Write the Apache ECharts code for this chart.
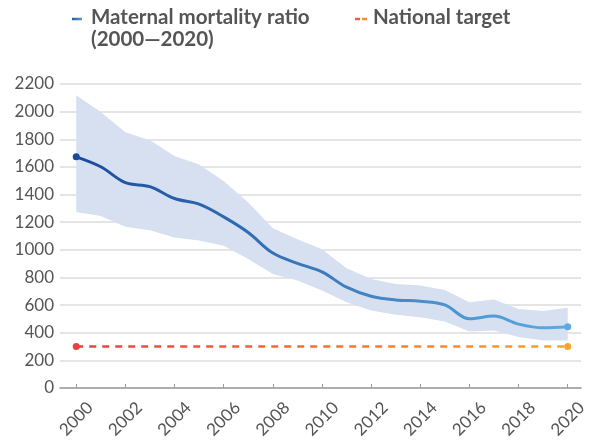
<!DOCTYPE html>
<html><head><meta charset="utf-8">
<script src="https://cdn.jsdelivr.net/npm/echarts@6/dist/echarts.min.js"></script>
<style>html,body{margin:0;padding:0;background:#fff}#c{width:592px;height:441px}</style>
</head><body><div id="c"></div>
<script>
var years = [2000,2001,2002,2003,2004,2005,2006,2007,2008,2009,2010,2011,2012,2013,2014,2015,2016,2017,2018,2019,2020];
var mmr = [1673,1601,1486,1457,1371,1330,1238,1125,976,902,840,729,664,637,628,601,500,520,462,435,443];
var mmrUpper = [2118,1998,1851,1793,1678,1618,1498,1342,1156,1077,1003,866,789,753,741,709,621,640,572,556,580];
var mmrLower = [1274,1245,1166,1142,1089,1068,1029,933,825,777,705,621,560,529,512,481,409,416,368,344,344];
var target = [300,300,300,300,300,300,300,300,300,300,300,300,300,300,300,300,300,300,300,300,300];
var xTicks = [2000,2002,2004,2006,2008,2010,2012,2014,2016,2018,2020];
var seriesNames = ['Maternal mortality ratio', '(2000\u20142020)', 'National target'];

var chart = echarts.init(document.getElementById('c'), null, {renderer:'canvas'});
var FONT = 'Lato';
var blueGrad = function(){ return new echarts.graphic.LinearGradient(0,0,1,0,[{offset:0,color:'#1b4a9b'},{offset:1,color:'#5cabe0'}]); };
var orangeGrad = function(){ return new echarts.graphic.LinearGradient(0,0,1,0,[{offset:0,color:'#e8403e'},{offset:1,color:'#f6a42a'}]); };
var last = years.length - 1;
var plain = function(v){ return String(Math.round(v)); };

var option = {
  animation: false,
  grid: {left: 60, right: 11, top: 84, bottom: 52, containLabel: false},
  xAxis: {
    type: 'value', min: 1999.34, max: 2020.54,
    axisLine: {show: true, lineStyle: {color: '#9a9a9a', width: 1.5}},
    axisTick: {show: true, inside: true, length: 4, customValues: xTicks, lineStyle: {color: '#9a9a9a'}},
    axisLabel: {customValues: xTicks, rotate: 45, align: 'center', verticalAlign: 'middle',
                color: '#555', fontFamily: FONT, fontSize: 17, margin: 31, formatter: plain},
    splitLine: {show: false}
  },
  yAxis: {
    type: 'value', min: 0, max: 2200, interval: 200,
    axisLine: {show: false}, axisTick: {show: false},
    axisLabel: {color: '#555', fontFamily: FONT, fontSize: 17, margin: 6, formatter: plain},
    splitLine: {lineStyle: {color: '#dcdcdc', width: 1.5}}
  },
  graphic: [
    {type:'line', shape:{x1:72,y1:19,x2:82,y2:19}, style:{stroke: blueGrad(), lineWidth:2.5}},
    {type:'text', left: 91, top: 7, style:{text: seriesNames[0], fill:'#555', font:'bold 20.5px Lato'}},
    {type:'text', left: 91, top: 29, style:{text: seriesNames[1], fill:'#555', font:'bold 20.5px Lato'}},
    {type:'line', shape:{x1:355,y1:19,x2:360,y2:19}, style:{stroke:'#ee5f3d', lineWidth:2.5}},
    {type:'line', shape:{x1:362,y1:19,x2:367,y2:19}, style:{stroke:'#f48a33', lineWidth:2.5}},
    {type:'text', left: 373, top: 7, style:{text: seriesNames[2], fill:'#555', font:'bold 20.5px Lato'}}
  ],
  series: [
    {
      type: 'custom', name: 'band', silent: true, z: 1,
      data: years.map(function(y,i){ return [y, mmrLower[i], mmrUpper[i]]; }),
      renderItem: function(params, api){
        if (params.dataIndex !== 0) return null;
        var pts = [];
        for (var i = 0; i < years.length; i++) pts.push(api.coord([years[i], mmrUpper[i]]));
        for (var j = years.length - 1; j >= 0; j--) pts.push(api.coord([years[j], mmrLower[j]]));
        return {type:'polygon', shape:{points: pts}, style:{fill:'#d6e0f1'}};
      }
    },
    {
      type: 'line', name: 'Maternal mortality ratio', z: 3, smooth: 0.35,
      data: years.map(function(y,i){
        var end = (i === 0 || i === last);
        return {value:[y, mmr[i]], symbol: end ? 'circle' : 'none', symbolSize: 7,
                itemStyle:{color: i === 0 ? '#1b4a9b' : '#5cabe0'}};
      }),
      showAllSymbol: true,
      lineStyle: {width: 3, color: blueGrad()}
    },
    {
      type: 'line', name: 'National target', z: 2,
      data: years.map(function(y,i){
        var end = (i === 0 || i === last);
        return {value:[y, target[i]], symbol: end ? 'circle' : 'none', symbolSize: 7,
                itemStyle:{color: i === 0 ? '#e8403e' : '#f6a42a'}};
      }),
      showAllSymbol: true,
      lineStyle: {width: 2.5, type: [7,6], color: orangeGrad()}
    }
  ]
};
chart.setOption(option);
</script></body></html>
